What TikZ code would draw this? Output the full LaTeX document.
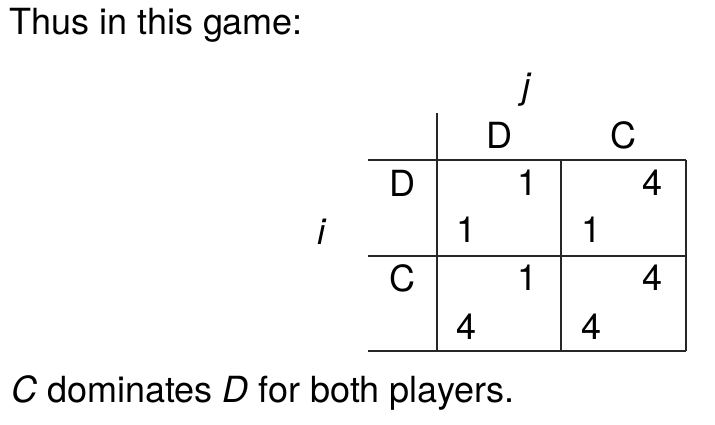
\documentclass[tikz,border=0pt]{standalone}
\usepackage{fontspec}
\setmainfont{TeX Gyre Heros}
\usetikzlibrary{positioning}

\begin{document}
\begin{tikzpicture}
  [x=1pt,y=-1pt,every node/.style={font=\fontsize{36}{40}\selectfont,inner sep=0pt}]
 \tikzset{rule/.style = {line width=1.3pt, black!85}}
  \useasboundingbox (0,0) rectangle (715,425);
  \node[anchor=base west] (title) at (9,35) {Thus in this game:};
  \node (j) at (527,90) {\textit{j}};
  \node (i) at (322,232) {\textit{i}};
  \node (colD) at (499,135) {D};
  \node (colC) at (623,135) {C};
  \node (rowD) at (402,183) {D};
  \node (rowC) at (402,278) {C};
  \node[anchor=base west] (note) at (11,402) {\textit{C} dominates \textit{D} for both players.};

  % grid corners
  \coordinate (tl) at (437,113);
  \coordinate (bl) at (437,351);
  \coordinate (l1) at (368,160);
  \coordinate (r1) at (686,160);
  \coordinate (l2) at (368,256);
  \coordinate (r2) at (686,256);
  \coordinate (l3) at (368,351);
  \coordinate (r3) at (686,351);
  \coordinate (m1) at (561,160);
  \coordinate (m3) at (561,351);

  \foreach \from/\to in {tl/bl,l1/r1,l2/r2,l3/r3,m1/m3,r1/r3}
    \draw[rule] (\from) -- (\to);

  % payoffs: column player top right, row player bottom left
  \node (dd1) at (528,183) {1};
  \node (dd2) at (467,230) {1};
  \node (dc1) at (653,183) {4};
  \node (dc2) at (592,230) {1};
  \node (cd1) at (528,278) {1};
  \node (cd2) at (467,327) {4};
  \node (cc1) at (653,278) {4};
  \node (cc2) at (592,327) {4};

\end{tikzpicture}
\end{document}
